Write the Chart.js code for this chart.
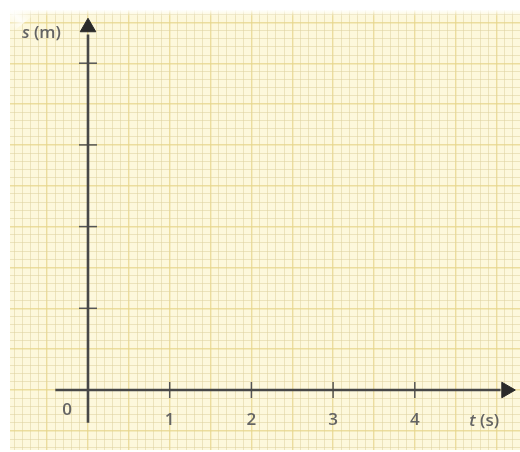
<!DOCTYPE html>
<html>
<head>
<meta charset="utf-8">
<script src="https://cdn.jsdelivr.net/npm/chart.js@4"></script>
<style>
  body { margin: 0; background: #fff; }
  canvas { display: block; }
</style>
</head>
<body>
<canvas id="myChart" width="520" height="452"></canvas>
<script>
'use strict';

// tick values and labels on the two axes
const xTicks = [1, 2, 3, 4];
const xTickLabels = ['1', '2', '3', '4'];
const yTicks = [1, 2, 3, 4];
const originLabel = '0';
const xTitle = ['t', ' (s)'];
const yTitle = ['s', ' (m)'];

// graph paper: 81.7 px per unit, origin at (88, 390), paper starts at (10, 10)
const unit = 81.7;
const xMin = -(88 - 10) / unit;
const xMax = xMin + 510 / unit;
const yMax = (390 - 10) / unit;
const yMin = yMax - 440 / unit;

function paperTicks(scale) {
  let ticks = [];
  for (let k = Math.ceil(scale.min * 10); k <= Math.floor(scale.max * 10); k++) {
    ticks.push({ value: k / 10 });
  }
  scale.ticks = ticks;
}
function gridColor(c) {
  let k = Math.round(c.tick.value * 10);
  if (k % 5 === 0) return 'rgba(230, 212, 138, 0.75)';
  return 'rgba(222, 210, 160, 0.55)';
}
function gridWidth(c) {
  let k = Math.round(c.tick.value * 10);
  return k % 5 === 0 ? 1.4 : 1;
}

const paper = {
  id: 'paper',
  beforeDraw(chart) {
    const { ctx, chartArea: a } = chart;
    ctx.save();
    ctx.fillStyle = '#fdf8dc';
    ctx.fillRect(a.left, a.top, a.right - a.left, a.bottom - a.top);
    ctx.restore();
  },
  beforeDatasetsDraw(chart) {
    const { ctx, chartArea: a } = chart;
    ctx.save();
    // soft white glare at the top left corner
    let g = ctx.createLinearGradient(a.left, a.top + 20, a.left + 20, a.top);
    g.addColorStop(0, 'rgba(255,255,255,0)');
    g.addColorStop(0.5, 'rgba(255,255,255,0.8)');
    g.addColorStop(1, 'rgba(255,255,255,0)');
    ctx.fillStyle = g;
    ctx.beginPath();
    ctx.moveTo(a.left, a.top);
    ctx.lineTo(a.left + 30, a.top);
    ctx.lineTo(a.left, a.top + 24);
    ctx.closePath();
    ctx.fill();
    let t = ctx.createLinearGradient(0, a.top, 0, a.top + 6);
    t.addColorStop(0, 'rgba(255,255,255,0.9)');
    t.addColorStop(1, 'rgba(255,255,255,0)');
    ctx.fillStyle = t;
    ctx.fillRect(a.left, a.top, a.right - a.left, 6);
    ctx.restore();
  }
};

function mixedText(ctx, parts, x, y) {
  const fonts = ['italic 600 17px "Open Sans"', '600 17px "Open Sans"'];
  let w = [];
  parts.forEach((p, i) => { ctx.font = fonts[i]; w.push(ctx.measureText(p).width); });
  let cx = x - (w[0] + w[1]) / 2;
  parts.forEach((p, i) => { ctx.font = fonts[i]; ctx.fillText(p, cx, y); cx += w[i]; });
}

const axisText = {
  id: 'axisText',
  afterDatasetsDraw(chart) {
    const { ctx, scales: { x, y } } = chart;
    const x0 = x.getPixelForValue(0);
    const y0 = y.getPixelForValue(0);
    ctx.save();
    ctx.fillStyle = '#646464';
    ctx.textBaseline = 'middle';
    ctx.textAlign = 'center';
    ctx.font = '600 17px "Open Sans"';
    xTicks.forEach((v, i) => {
      ctx.fillText(xTickLabels[i], x.getPixelForValue(v), y0 + 30);
    });
    ctx.fillText(originLabel, x0 - 21, y0 + 20);
    ctx.textAlign = 'left';
    mixedText(ctx, xTitle, x.getPixelForValue(4.85), y0 + 31);
    mixedText(ctx, yTitle, x.getPixelForValue(-0.57), y.getPixelForValue(4.37));
    ctx.restore();
  }
};

const axisColor = '#474747';
const ctx = document.getElementById('myChart').getContext('2d');
const myChart = new Chart(ctx, {
  type: 'scatter',
  data: {
    datasets: [
      {
        data: [{ x: -0.4, y: 0 }, { x: 5.05, y: 0 }],
        showLine: true, borderColor: axisColor, borderWidth: 2.6, pointRadius: 0
      },
      {
        data: [{ x: 0, y: -0.4 }, { x: 0, y: 4.35 }],
        showLine: true, borderColor: axisColor, borderWidth: 2.6, pointRadius: 0
      },
      {
        data: [{ x: 5.12, y: 0 }],
        pointStyle: 'triangle', rotation: 90, pointRadius: 9,
        backgroundColor: '#2a2a2a', borderColor: '#2a2a2a', borderWidth: 1
      },
      {
        data: [{ x: 0, y: 4.44 }],
        pointStyle: 'triangle', rotation: 0, pointRadius: 9,
        backgroundColor: '#2a2a2a', borderColor: '#2a2a2a', borderWidth: 1
      },
      {
        data: xTicks.map(v => ({ x: v, y: 0 })),
        pointStyle: 'line', rotation: 90, pointRadius: 8,
        borderColor: '#555', borderWidth: 1.5
      },
      {
        data: yTicks.map(v => ({ x: 0, y: v })),
        pointStyle: 'line', rotation: 0, pointRadius: 9,
        borderColor: '#555', borderWidth: 1.5
      }
    ]
  },
  options: {
    responsive: false,
    animation: false,
    layout: { autoPadding: false, padding: { left: 10, top: 10, right: 0, bottom: 2 } },
    plugins: { legend: { display: false }, tooltip: { enabled: false } },
    scales: {
      x: {
        type: 'linear', min: xMin, max: xMax,
        afterBuildTicks: paperTicks,
        ticks: { display: false },
        border: { display: false },
        grid: { drawTicks: false, color: gridColor, lineWidth: gridWidth }
      },
      y: {
        type: 'linear', min: yMin, max: yMax,
        afterBuildTicks: paperTicks,
        ticks: { display: false },
        border: { display: false },
        grid: { drawTicks: false, color: gridColor, lineWidth: gridWidth }
      }
    }
  },
  plugins: [paper, axisText]
});
</script>
</body>
</html>
